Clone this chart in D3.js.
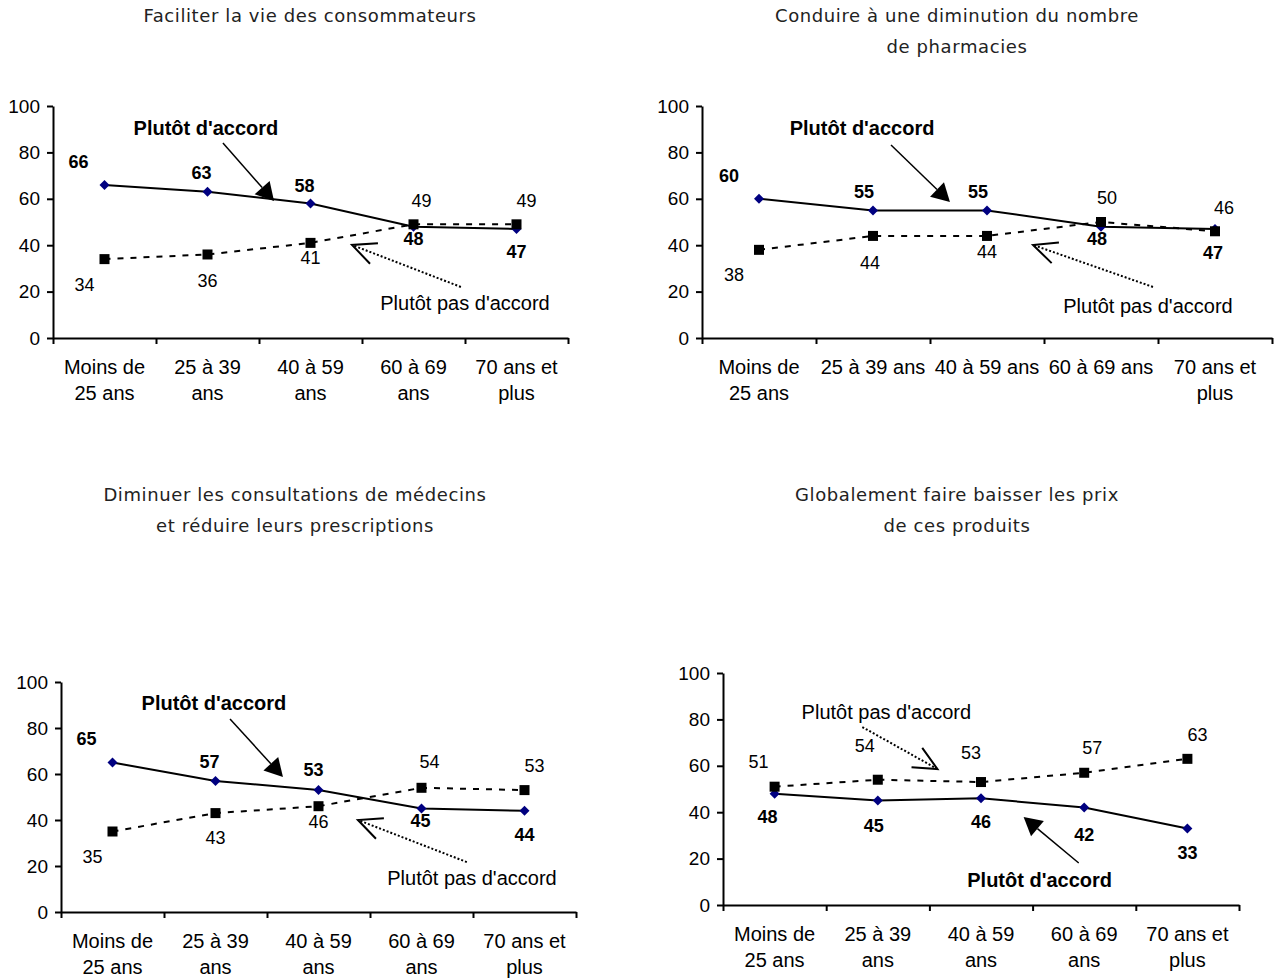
<!DOCTYPE html>
<html>
<head>
<meta charset="utf-8">
<script src="https://cdn.jsdelivr.net/npm/d3@7"></script>
<style>
  body { margin: 0; background: #fff; }
  text { font-family: "Liberation Sans", Arial, sans-serif; }
</style>
</head>
<body>
<script>
// Données
const categories = ['Moins de 25 ans', '25 à 39 ans', '40 à 59 ans', '60 à 69 ans', '70 ans et plus'];

const tickLabelsWrapped = [['Moins de', '25 ans'], ['25 à 39', 'ans'], ['40 à 59', 'ans'], ['60 à 69', 'ans'], ['70 ans et', 'plus']];
const tickLabelsWide = [['Moins de', '25 ans'], ['25 à 39 ans'], ['40 à 59 ans'], ['60 à 69 ans'], ['70 ans et', 'plus']];
const yTicks = [0, 20, 40, 60, 80, 100];

const accordConso = [66, 63, 58, 48, 47];
const pasConso = [34, 36, 41, 49, 49];

const accordPharma = [60, 55, 55, 48, 47];
const pasPharma = [38, 44, 44, 50, 46];

const accordMedecins = [65, 57, 53, 45, 44];
const pasMedecins = [35, 43, 46, 54, 53];

const accordPrix = [48, 45, 46, 42, 33];
const pasPrix = [51, 54, 53, 57, 63];

const labelAccord = "Plutôt d'accord";
const labelPas = "Plutôt pas d'accord";

// Mise en page des quatre graphiques
const panels = [
   {
      title: ['Faciliter la vie des consommateurs'], titleX: 310, titleY: 16,
      x0: 53, x1: 568, yTop: 106, yBottom: 338,
      ticks: tickLabelsWrapped, accord: accordConso, pas: pasConso,
      accordOff: [[-26, -23], [-6, -19], [-6, -18], [0, 12], [0, 23]],
      pasOff: [[-20, 26], [0, 26], [0, 15], [8, -24], [10, -24]],
      accordNote: { text: [1.485, 90.5], from: [1.65, 84], to: [2.146, 59] },
      pasNote: { text: [4.0, 15.1], from: [3.96, 22], to: [2.903, 40.1] }
   },
   {
      title: ['Conduire à une diminution du nombre', 'de pharmacies'], titleX: 957, titleY: 16,
      x0: 702, x1: 1272, yTop: 106, yBottom: 338,
      ticks: tickLabelsWide, accord: accordPharma, pas: pasPharma,
      accordOff: [[-30, -23], [-9, -19], [-9, -19], [-4, 12], [-2, 24]],
      pasOff: [[-25, 25], [-3, 27], [0, 16], [6, -24], [9, -24]],
      accordNote: { text: [1.404, 90.5], from: [1.658, 83.2], to: [2.175, 58.6] },
      pasNote: { text: [3.912, 13.8], from: [3.956, 22], to: [2.904, 40.1] }
   },
   {
      title: ['Diminuer les consultations de médecins', 'et réduire leurs prescriptions'], titleX: 295, titleY: 495,
      x0: 61, x1: 576, yTop: 682, yBottom: 912,
      ticks: tickLabelsWrapped, accord: accordMedecins, pas: pasMedecins,
      accordOff: [[-26, -24], [-6, -19], [-5, -20], [-1, 12], [0, 24]],
      pasOff: [[-20, 25], [0, 25], [0, 15], [8, -26], [10, -24]],
      accordNote: { text: [1.485, 90.9], from: [1.641, 83.9], to: [2.155, 58.7] },
      pasNote: { text: [3.99, 14.8], from: [3.94, 21.7], to: [2.883, 40] }
   },
   {
      title: ['Globalement faire baisser les prix', 'de ces produits'], titleX: 957, titleY: 495,
      x0: 723, x1: 1239, yTop: 673, yBottom: 905,
      ticks: tickLabelsWrapped, accord: accordPrix, pas: pasPrix,
      accordOff: [[-7, 23], [-4, 25], [0, 23], [0, 27], [0, 24]],
      pasOff: [[-16, -25], [-13, -34], [-10, -29], [8, -25], [10, -24]],
      accordNote: { text: [3.068, 10.8], from: [3.447, 18.1], to: [2.913, 37.9] },
      pasNote: { text: [1.583, 83.2], from: [1.35, 76.7], to: [2.078, 58.6] }
   }
];

const svg = d3.select('body')
   .append('svg')
   .attr('width', 1285)
   .attr('height', 979);

panels.forEach(drawPanel);

function drawPanel(p) {
   const g = svg.append('g');

   // échelles
   const x = d3.scaleBand()
      .domain(categories)
      .range([p.x0, p.x1])
      .padding(0);
   const u = d3.scaleLinear()
      .domain([0, categories.length])
      .range([p.x0, p.x1]);
   const y = d3.scaleLinear()
      .domain([0, 100])
      .range([p.yBottom, p.yTop]);
   const cx = c => x(c) + x.bandwidth() / 2;

   // titre
   g.append('text')
      .attr('x', p.titleX)
      .attr('y', p.titleY)
      .attr('text-anchor', 'middle')
      .style('font-family', '"DejaVu Sans", Verdana, sans-serif')
      .style('font-size', '18px')
      .style('letter-spacing', '0.6px')
      .style('fill', '#222')
      .selectAll('tspan')
      .data(p.title)
      .join('tspan')
         .attr('x', p.titleX)
         .attr('dy', (d, i) => i === 0 ? '0.35em' : '31px')
         .text(d => d);

   // axe vertical
   g.append('g')
      .attr('transform', `translate(${p.x0}, 0)`)
      .call(d3.axisLeft(y).tickValues(yTicks).tickSize(6).tickSizeOuter(0).tickPadding(7))
      .call(a => a.selectAll('line, path').attr('stroke', '#000').attr('stroke-width', 2))
      .call(a => a.selectAll('text').style('font-size', '19px').attr('fill', '#000')
         .style('font-family', '"Liberation Sans", Arial, sans-serif'));

   // axe horizontal : graduations entre catégories
   g.append('g')
      .attr('transform', `translate(0, ${p.yBottom})`)
      .call(d3.axisBottom(u).tickValues(d3.range(categories.length + 1)).tickFormat('').tickSize(6).tickSizeOuter(0))
      .call(a => a.selectAll('line, path').attr('stroke', '#000').attr('stroke-width', 2));

   // étiquettes des catégories
   g.append('g')
      .attr('transform', `translate(0, ${p.yBottom})`)
      .call(d3.axisBottom(x).tickSize(0).tickPadding(0))
      .call(a => a.select('.domain').remove())
      .call(a => a.selectAll('.tick text')
         .attr('y', 0)
         .attr('dy', null)
         .style('font-size', '20px')
         .style('font-family', '"Liberation Sans", Arial, sans-serif')
         .attr('fill', '#000')
         .each(function (d, i) {
            const t = d3.select(this).text(null);
            p.ticks[i].forEach((line, j) => {
               t.append('tspan')
                  .attr('x', 0)
                  .attr('y', 29 + j * 26)
                  .attr('dy', '0.35em')
                  .text(line);
            });
         }));

   // courbes
   const line = d3.line()
      .x((d, i) => cx(categories[i]))
      .y(d => y(d));

   g.append('path')
      .datum(p.pas)
      .attr('d', line)
      .attr('fill', 'none')
      .attr('stroke', '#000')
      .attr('stroke-width', 2)
      .attr('stroke-dasharray', '6,7');

   g.append('path')
      .datum(p.accord)
      .attr('d', line)
      .attr('fill', 'none')
      .attr('stroke', '#000')
      .attr('stroke-width', 2);

   // marqueurs
   g.append('g')
      .selectAll('path')
      .data(p.accord)
      .join('path')
         .attr('d', (d, i) => {
            const px = cx(categories[i]), py = y(d), r = 5;
            return `M${px},${py - r}L${px + r},${py}L${px},${py + r}L${px - r},${py}Z`;
         })
         .attr('fill', '#000080');

   g.append('g')
      .selectAll('rect')
      .data(p.pas)
      .join('rect')
         .attr('x', (d, i) => cx(categories[i]) - 5)
         .attr('y', d => y(d) - 5)
         .attr('width', 10)
         .attr('height', 10)
         .attr('fill', '#000');

   // valeurs
   g.append('g')
      .selectAll('text')
      .data(p.accord)
      .join('text')
         .attr('x', (d, i) => cx(categories[i]) + p.accordOff[i][0])
         .attr('y', (d, i) => y(d) + p.accordOff[i][1])
         .attr('dy', '0.35em')
         .attr('text-anchor', 'middle')
         .style('font-size', '18px')
         .style('font-weight', 'bold')
         .text(d => d);

   g.append('g')
      .selectAll('text')
      .data(p.pas)
      .join('text')
         .attr('x', (d, i) => cx(categories[i]) + p.pasOff[i][0])
         .attr('y', (d, i) => y(d) + p.pasOff[i][1])
         .attr('dy', '0.35em')
         .attr('text-anchor', 'middle')
         .style('font-size', '18px')
         .text(d => d);

   // annotations
   drawNote(g, u, y, p.accordNote, labelAccord, true);
   drawNote(g, u, y, p.pasNote, labelPas, false);
}

function drawNote(g, u, y, note, label, filled) {
   g.append('text')
      .attr('x', u(note.text[0]))
      .attr('y', y(note.text[1]))
      .attr('dy', '0.35em')
      .attr('text-anchor', 'middle')
      .style('font-size', '20px')
      .style('font-weight', filled ? 'bold' : 'normal')
      .text(label);

   const fx = u(note.from[0]), fy = y(note.from[1]);
   const tx = u(note.to[0]), ty = y(note.to[1]);
   const len = Math.hypot(tx - fx, ty - fy);
   const dx = (tx - fx) / len, dy = (ty - fy) / len;

   if (filled) {
      const bx = tx - dx * 18, by = ty - dy * 18;
      g.append('line')
         .attr('x1', fx).attr('y1', fy)
         .attr('x2', bx).attr('y2', by)
         .attr('stroke', '#000')
         .attr('stroke-width', 1.5);
      g.append('path')
         .attr('d', `M${tx},${ty}L${bx - dy * 10},${by + dx * 10}L${bx + dy * 10},${by - dx * 10}Z`)
         .attr('fill', '#000');
   } else {
      g.append('line')
         .attr('x1', fx).attr('y1', fy)
         .attr('x2', tx).attr('y2', ty)
         .attr('stroke', '#000')
         .attr('stroke-width', 2)
         .attr('stroke-dasharray', '2,2');
      const a = 25 * Math.PI / 180;
      const arm = s => {
         const rx = -dx * Math.cos(s * a) + dy * Math.sin(s * a);
         const ry = -dy * Math.cos(s * a) - dx * Math.sin(s * a);
         return [tx + rx * 26, ty + ry * 26];
      };
      const [ax, ay] = arm(1), [bx2, by2] = arm(-1);
      g.append('path')
         .attr('d', `M${ax},${ay}L${tx},${ty}L${bx2},${by2}`)
         .attr('fill', 'none')
         .attr('stroke', '#000')
         .attr('stroke-width', 2);
   }
}
</script>
</body>
</html>
